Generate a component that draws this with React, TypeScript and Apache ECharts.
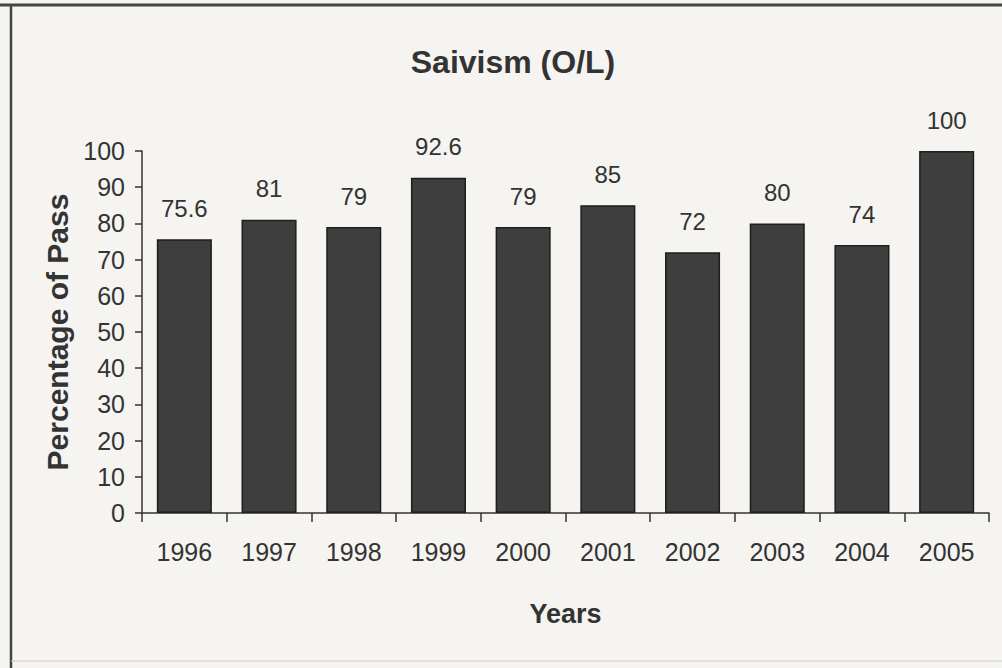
import React, { useEffect, useRef } from "react";
import * as echarts from "echarts";

const TITLE = "Saivism (O/L)";
const years = ["1996", "1997", "1998", "1999", "2000", "2001", "2002", "2003", "2004", "2005"];
const passRates = [75.6, 81, 79, 92.6, 79, 85, 72, 80, 74, 100];
const yAxisName = "Percentage of Pass";
const xAxisName = "Years";

const SANS = "'Liberation Sans', Arial, sans-serif";
const TEXT = "#333333";

export default function App() {
  const ref = useRef<HTMLDivElement>(null);
  useEffect(() => {
    if (!ref.current) return;
    const chart = echarts.init(ref.current, null, { renderer: "svg" });
    chart.setOption({
      animation: false,
      backgroundColor: "#f5f4f0",
      title: {
        text: TITLE,
        left: 508,
        top: 41,
        textAlign: "center",
        textStyle: { fontFamily: SANS, fontWeight: "bold", fontSize: 32, color: TEXT },
      },
      grid: { left: 142, right: 13, top: 151, bottom: 155 },
      xAxis: {
        type: "category",
        data: years,
        name: xAxisName,
        nameLocation: "middle",
        nameGap: 87,
        nameTextStyle: { fontFamily: SANS, fontWeight: "bold", fontSize: 27, color: TEXT },
        axisLine: { lineStyle: { color: "#333", width: 1.5 } },
        axisTick: { show: true, length: 9, lineStyle: { color: "#333", width: 1.5 } },
        axisLabel: { fontFamily: SANS, fontSize: 25, color: TEXT, margin: 26 },
      },
      yAxis: {
        type: "value",
        min: 0,
        max: 100,
        interval: 10,
        name: yAxisName,
        nameLocation: "middle",
        nameGap: 70,
        nameTextStyle: { fontFamily: SANS, fontWeight: "bold", fontSize: 30, color: TEXT },
        splitLine: { show: false },
        axisLine: { show: true, lineStyle: { color: "#333", width: 1.5 } },
        axisTick: { show: true, length: 7, lineStyle: { color: "#333", width: 1.5 } },
        axisLabel: { fontFamily: SANS, fontSize: 25, color: TEXT, margin: 17 },
      },
      series: [
        {
          type: "bar",
          data: passRates,
          barCategoryGap: "35%",
          itemStyle: { color: "#3e3e3e", borderColor: "#1e1e1e", borderWidth: 1.5 },
          label: {
            show: true,
            position: "top",
            distance: 19,
            fontFamily: SANS,
            fontSize: 24,
            color: TEXT,
          },
        },
      ],
      graphic: [
        { type: "line", shape: { x1: 0, y1: 5, x2: 1002, y2: 5 }, style: { stroke: "#444", lineWidth: 3 } },
        { type: "line", shape: { x1: 11, y1: 5, x2: 11, y2: 668 }, style: { stroke: "#444", lineWidth: 2.5 } },
        { type: "line", shape: { x1: 11, y1: 661, x2: 1002, y2: 661 }, style: { stroke: "#ccc", lineWidth: 1 } },
      ],
    });
    return () => chart.dispose();
  }, []);
  return <div ref={ref} style={{ position: "fixed", left: 0, top: 0, width: 1002, height: 668 }} />;
}
